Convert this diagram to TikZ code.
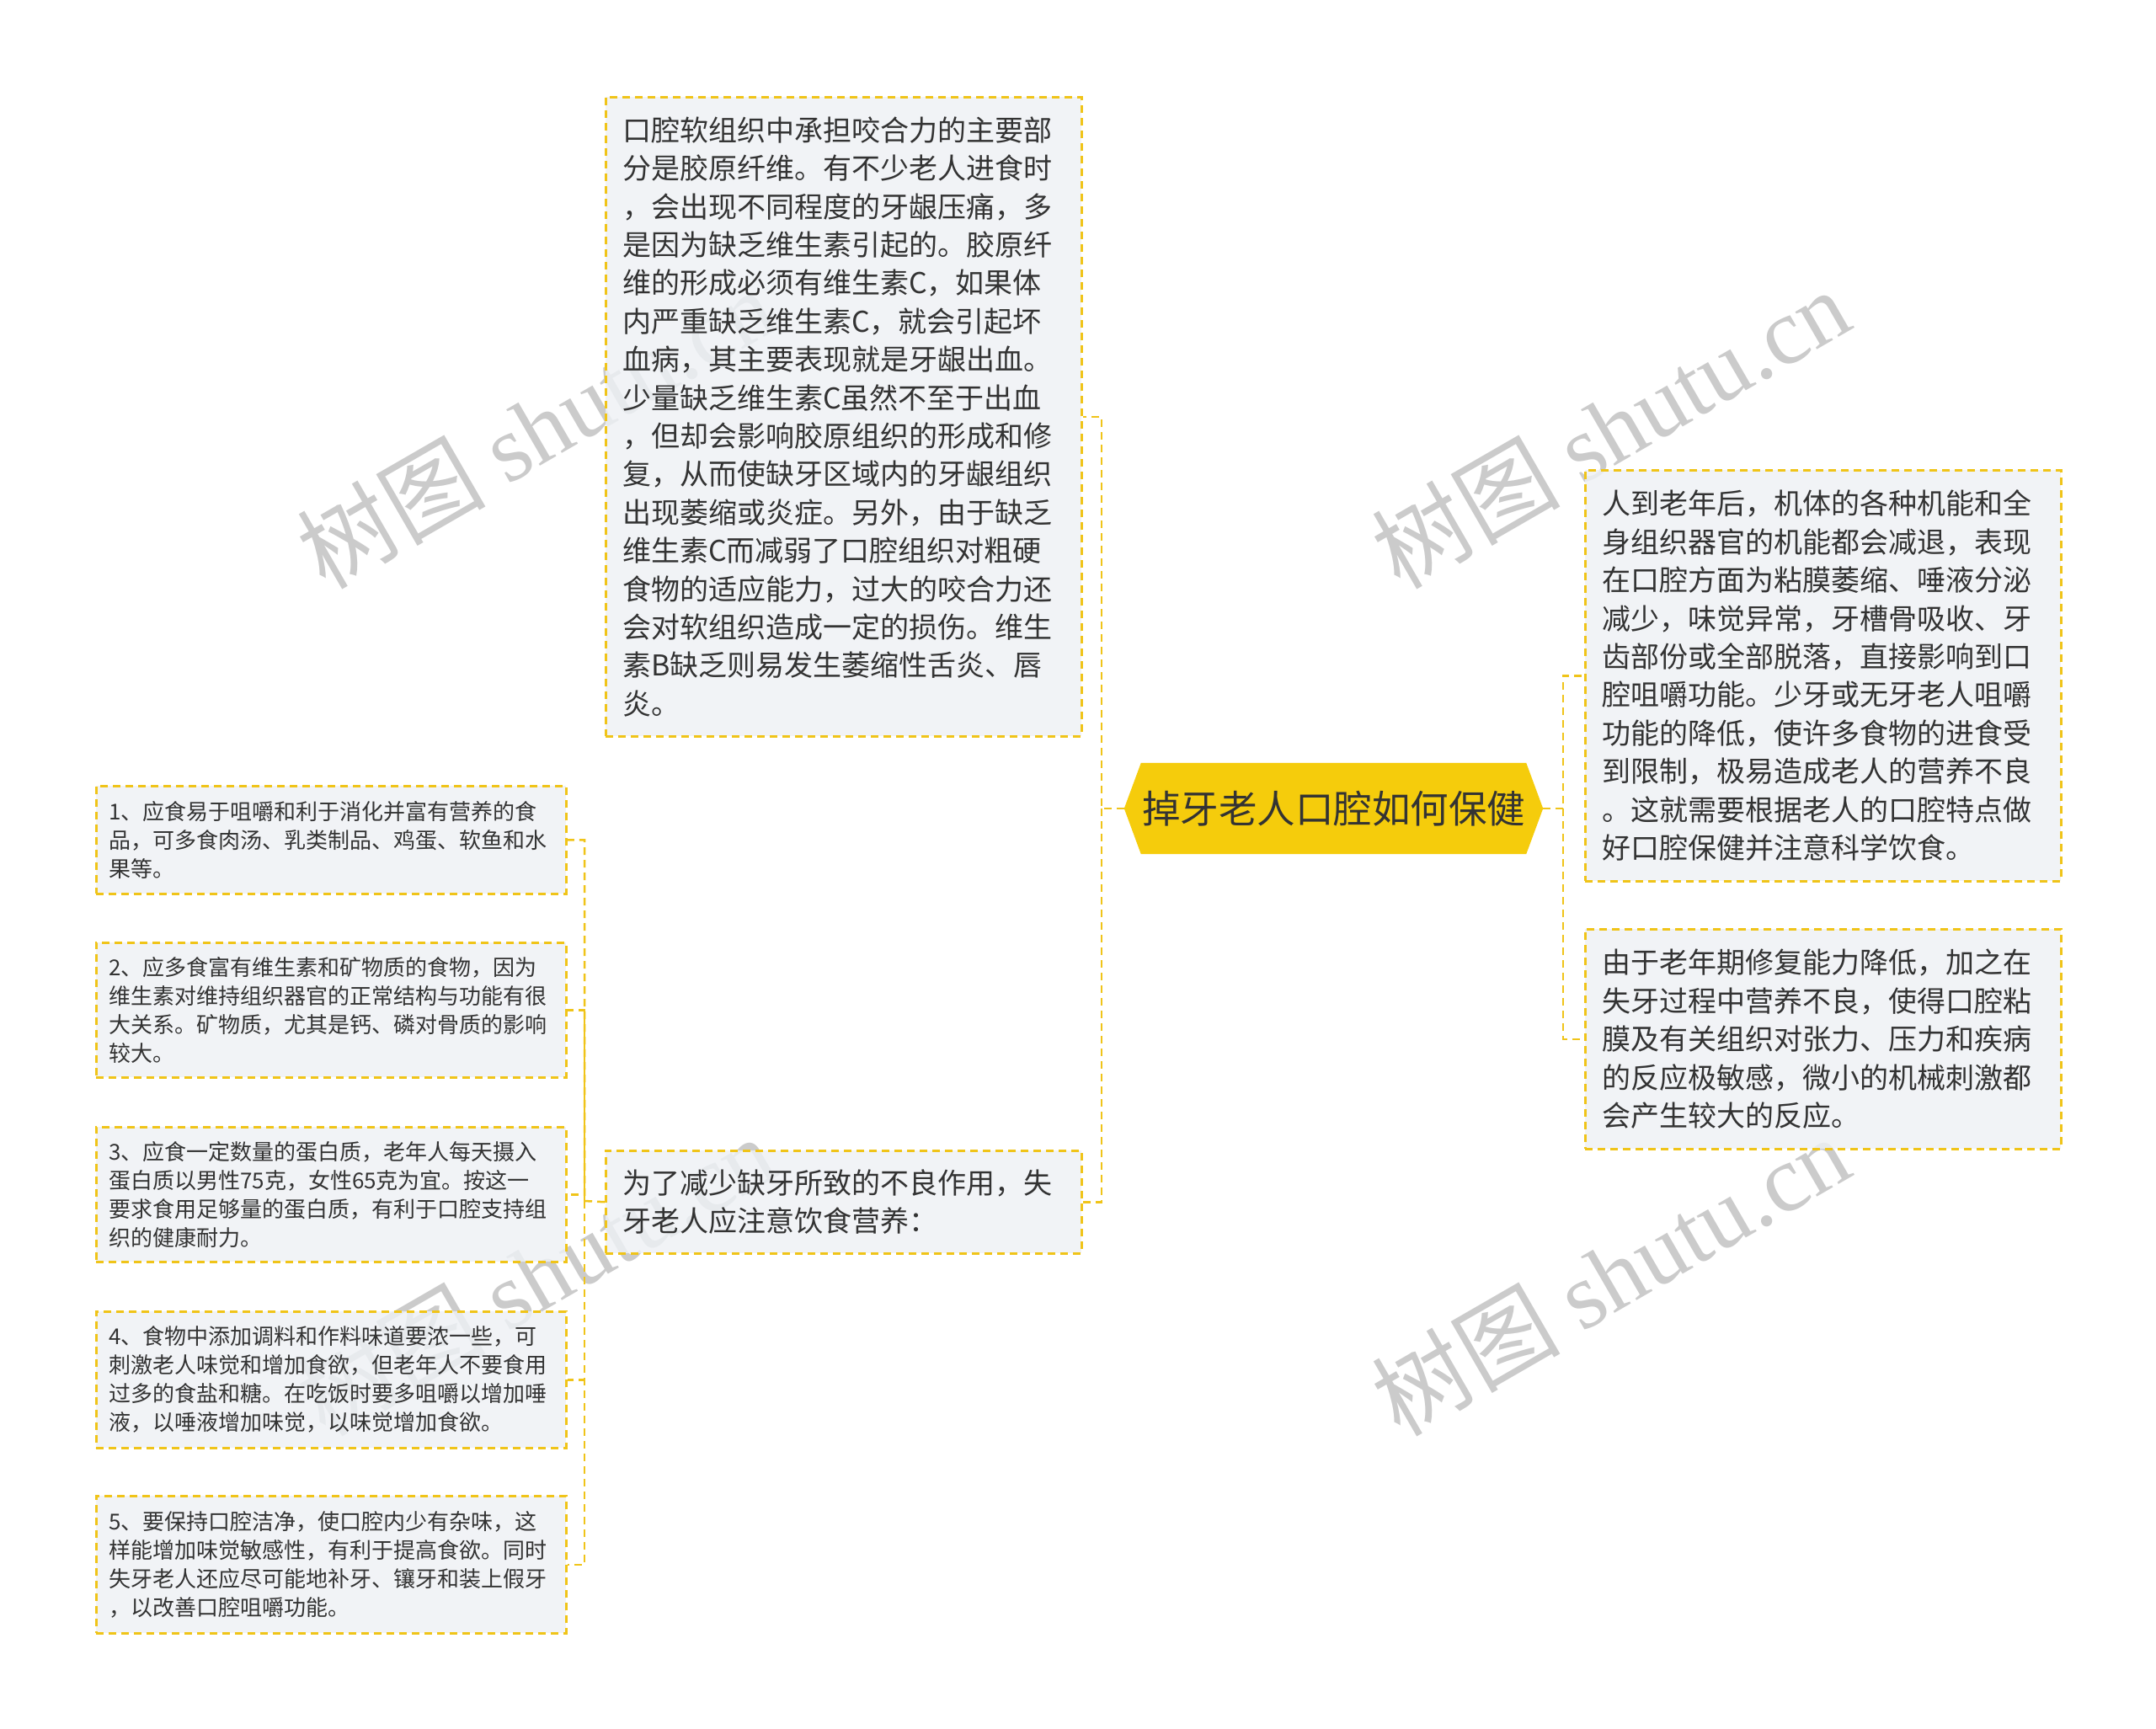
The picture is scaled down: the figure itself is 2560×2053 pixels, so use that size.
\documentclass[tikz,border=0pt]{standalone}
\usepackage{fontspec}
\setmainfont{Noto Sans CJK SC}
\newfontfamily\wmlatin{Liberation Serif}
\pgfdeclarelayer{background}
\pgfdeclarelayer{hexlayer}
\pgfsetlayers{background,hexlayer,main}
\definecolor{hexfill}{HTML}{F5CC0C}
\definecolor{bordery}{HTML}{F0C419}
\definecolor{boxfill}{HTML}{EEF1F5}
\definecolor{txt}{HTML}{333333}
\definecolor{wmgray}{HTML}{CBCBCB}
\begin{document}
\begin{tikzpicture}[x=1pt,y=-1pt,
  ydash/.style={draw=bordery, line width=2.5pt, dash pattern=on 9pt off 6pt},
  box/.style={ydash, fill=boxfill, fill opacity=0.82, text opacity=1, text=txt, rectangle, inner ysep=0pt, align=left, anchor=north west},
  bigbox/.style={box, inner xsep=20pt, text width=525pt, minimum width=565pt, font=\fontsize{34}{45.4}\selectfont},
  smallbox/.style={box, inner xsep=15pt, text width=528pt, minimum width=558pt, font=\fontsize{26}{34}\selectfont},
  conn/.style={ydash},
  root/.style={rectangle, text=txt, inner sep=0pt, minimum width=457pt, minimum height=108pt, font=\fontsize{45.5}{55}\selectfont},
  hexagon/.style={fill=hexfill},
  wm/.style={text=wmgray, rotate=30, font=\fontsize{112}{120}\selectfont}
]
\useasboundingbox (0,0) rectangle (2560,2053);
\begin{pgfonlayer}{background}
\fill[white] (0,0) rectangle (2560,2053);
\end{pgfonlayer}

% watermarks
\node[wm] (wm1) at (636,508) {树图 {\wmlatin shutu.cn}};
\node[wm] (wm2) at (1912,508) {树图 {\wmlatin shutu.cn}};
\node[wm] (wm3) at (636,1514) {树图 {\wmlatin shutu.cn}};
\node[wm] (wm4) at (1912,1514) {树图 {\wmlatin shutu.cn}};

% root (hexagon drawn behind the text node)
\node[root] (root) at (1583.5,960) {掉牙老人口腔如何保健};
\begin{pgfonlayer}{hexlayer}
\fill[hexagon] ([xshift=-20pt]root.west) -- (root.north west) -- (root.north east)
  -- ([xshift=20pt]root.east) -- (root.south east) -- (root.south west) -- cycle;
\end{pgfonlayer}

% top-left long box
\node[bigbox, minimum height=759pt] (t1) at (718,114) {口腔软组织中承担咬合力的主要部\\
分是胶原纤维。有不少老人进食时\\
，会出现不同程度的牙龈压痛，多\\
是因为缺乏维生素引起的。胶原纤\\
维的形成必须有维生素C，如果体\\
内严重缺乏维生素C，就会引起坏\\
血病，其主要表现就是牙龈出血。\\
少量缺乏维生素C虽然不至于出血\\
，但却会影响胶原组织的形成和修\\
复，从而使缺牙区域内的牙龈组织\\
出现萎缩或炎症。另外，由于缺乏\\
维生素C而减弱了口腔组织对粗硬\\
食物的适应能力，过大的咬合力还\\
会对软组织造成一定的损伤。维生\\
素B缺乏则易发生萎缩性舌炎、唇\\
炎。};

\node[bigbox, minimum height=122pt] (t2) at (718,1365) {为了减少缺牙所致的不良作用，失\\
牙老人应注意饮食营养：};

% right boxes
\node[bigbox, minimum height=488pt] (r1) at (1881,557) {人到老年后，机体的各种机能和全\\
身组织器官的机能都会减退，表现\\
在口腔方面为粘膜萎缩、唾液分泌\\
减少，味觉异常，牙槽骨吸收、牙\\
齿部份或全部脱落，直接影响到口\\
腔咀嚼功能。少牙或无牙老人咀嚼\\
功能的降低，使许多食物的进食受\\
到限制，极易造成老人的营养不良\\
。这就需要根据老人的口腔特点做\\
好口腔保健并注意科学饮食。};

\node[bigbox, minimum height=261pt] (r2) at (1881,1102) {由于老年期修复能力降低，加之在\\
失牙过程中营养不良，使得口腔粘\\
膜及有关组织对张力、压力和疾病\\
的反应极敏感，微小的机械刺激都\\
会产生较大的反应。};

% left small boxes
\node[smallbox, minimum height=128pt] (l1) at (113,932) {1、应食易于咀嚼和利于消化并富有营养的食\\
品，可多食肉汤、乳类制品、鸡蛋、软鱼和水\\
果等。};
\node[smallbox, minimum height=160pt] (l2) at (113,1118) {2、应多食富有维生素和矿物质的食物，因为\\
维生素对维持组织器官的正常结构与功能有很\\
大关系。矿物质，尤其是钙、磷对骨质的影响\\
较大。};
\node[smallbox, minimum height=160pt] (l3) at (113,1337) {3、应食一定数量的蛋白质，老年人每天摄入\\
蛋白质以男性75克，女性65克为宜。按这一\\
要求食用足够量的蛋白质，有利于口腔支持组\\
织的健康耐力。};
\node[smallbox, minimum height=162pt] (l4) at (113,1556) {4、食物中添加调料和作料味道要浓一些，可\\
刺激老人味觉和增加食欲，但老年人不要食用\\
过多的食盐和糖。在吃饭时要多咀嚼以增加唾\\
液，以唾液增加味觉，以味觉增加食欲。};
\node[smallbox, minimum height=163pt] (l5) at (113,1775) {5、要保持口腔洁净，使口腔内少有杂味，这\\
样能增加味觉敏感性，有利于提高食欲。同时\\
失牙老人还应尽可能地补牙、镶牙和装上假牙\\
，以改善口腔咀嚼功能。};

% connectors
\coordinate (lj) at (1308,960);
\coordinate (rj) at (1856,960);
\coordinate (lj2) at (694,1426);
\draw[conn] ([xshift=-20pt]root.west) -- (lj) |- (t1.east);
\draw[conn] (lj) |- (t2.east);
\draw[conn] ([xshift=20pt]root.east) -- (rj) |- (r1.west);
\draw[conn] (rj) |- (r2.west);
\draw[conn] (t2.west) -- (lj2) |- (l1.east);
\draw[conn] (lj2) |- (l2.east);
\draw[conn] (lj2) |- (l3.east);
\draw[conn] (lj2) |- (l4.east);
\draw[conn] (lj2) |- (l5.east);
\end{tikzpicture}
\end{document}
